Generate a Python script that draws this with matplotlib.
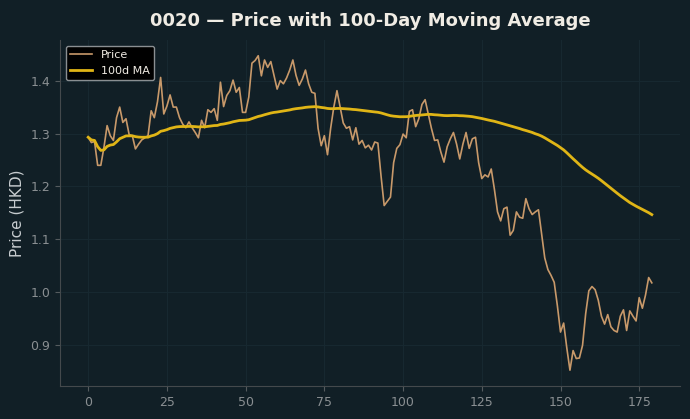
import matplotlib
matplotlib.use("Agg")
import matplotlib.pyplot as plt
import numpy as np
import pandas as pd

ticker = "0020"
days = list(range(180))
price = [
    1.293, 1.283, 1.285, 1.240, 1.240, 1.274, 1.315, 1.296, 1.287, 1.330,
    1.350, 1.321, 1.328, 1.298, 1.296, 1.271, 1.280, 1.288, 1.292, 1.296,
    1.343, 1.330, 1.360, 1.406, 1.337, 1.352, 1.373, 1.350, 1.350, 1.330,
    1.318, 1.311, 1.322, 1.311, 1.302, 1.292, 1.325, 1.311, 1.345, 1.340,
    1.347, 1.325, 1.397, 1.351, 1.372, 1.381, 1.401, 1.378, 1.387, 1.340,
    1.340, 1.369, 1.433, 1.438, 1.447, 1.409, 1.439, 1.425, 1.436, 1.410,
    1.384, 1.400, 1.394, 1.405, 1.420, 1.439, 1.410, 1.391, 1.403, 1.420,
    1.394, 1.378, 1.376, 1.310, 1.277, 1.296, 1.260, 1.310, 1.350, 1.381,
    1.350, 1.320, 1.310, 1.313, 1.288, 1.311, 1.280, 1.287, 1.273, 1.278,
    1.269, 1.284, 1.282, 1.220, 1.164, 1.172, 1.180, 1.245, 1.272, 1.279,
    1.299, 1.292, 1.342, 1.345, 1.313, 1.328, 1.355, 1.364, 1.337, 1.310,
    1.287, 1.288, 1.265, 1.246, 1.275, 1.290, 1.302, 1.280, 1.252, 1.280,
    1.302, 1.272, 1.290, 1.293, 1.245, 1.215, 1.222, 1.218, 1.233, 1.195,
    1.152, 1.135, 1.158, 1.161, 1.108, 1.117, 1.152, 1.142, 1.140, 1.177,
    1.158, 1.147, 1.152, 1.156, 1.110, 1.065, 1.043, 1.032, 1.019, 0.975,
    0.925, 0.942, 0.895, 0.853, 0.890, 0.875, 0.876, 0.900, 0.960, 1.003,
    1.011, 1.005, 0.985, 0.955, 0.940, 0.958, 0.935, 0.928, 0.925, 0.955,
    0.967, 0.928, 0.965, 0.955, 0.946, 0.990, 0.970, 0.995, 1.028, 1.018,
]
ma_window = 100
ma = pd.Series(price).rolling(ma_window, min_periods=1).mean()

bg = "#111f26"
fig = plt.figure(figsize=(6.9, 4.19), dpi=100, facecolor=bg)
ax = fig.add_axes([0.087, 0.079, 0.8985, 0.8255])
ax.set_facecolor(bg)

ax.plot(days, price, color="#c8996a", lw=1.2, label="Price")
ax.plot(days, ma, color="#e0b516", lw=2.0, label=f"{ma_window}d MA")

ax.set_title(f"{ticker} — Price with 100-Day Moving Average", color="#f0ece4",
             fontsize=13, fontweight="bold", pad=10)
ax.set_ylabel("Price (HKD)", color="#c8cdd0", fontsize=11)

ax.grid(True, color="#172830", lw=0.8)
ax.set_axisbelow(True)
for s in ["top", "right"]:
    ax.spines[s].set_visible(False)
for s in ["left", "bottom"]:
    ax.spines[s].set_color("#44494c")
ax.tick_params(colors="#555b5e", labelcolor="#8a8f92", labelsize=9)
ax.set_xticks([0, 25, 50, 75, 100, 125, 150, 175])

leg = ax.legend(loc="upper left", facecolor="black", edgecolor="#8a8f92",
                fontsize=8, framealpha=1.0)
for t in leg.get_texts():
    t.set_color("#f0ece4")

fig.savefig("out.png", dpi=100, facecolor=bg)
